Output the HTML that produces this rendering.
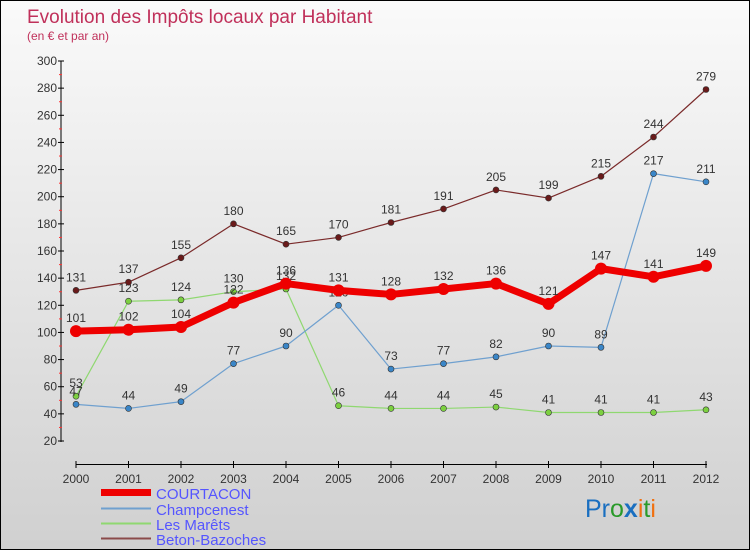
<!DOCTYPE html>
<html><head><meta charset="utf-8"><style>
body{margin:0}
#c{position:relative;width:748px;height:548px;border:1px solid #000;background:linear-gradient(#fafafa,#d0d0d0);font-family:"Liberation Sans",sans-serif;overflow:hidden}
</style></head><body>
<div id="c">
<svg id="s" width="748" height="548" xmlns="http://www.w3.org/2000/svg" font-family="Liberation Sans, sans-serif">
<text x="26" y="22" font-size="19" fill="#c0305a">Evolution des Impôts locaux par Habitant</text>
<text x="26" y="39" font-size="12" fill="#c0305a">(en € et par an)</text>
<g id="axes"></g><g id="series"></g>
<g>
<rect x="100" y="488" width="50" height="7" fill="#e00"/>
<text x="155" y="498" font-size="15" fill="#5555ff">COURTACON</text>
<line x1="100" y1="507.5" x2="150" y2="507.5" stroke="#6fa0cf" stroke-width="2"/>
<text x="155" y="514" font-size="15" fill="#5555ff">Champcenest</text>
<line x1="100" y1="522.5" x2="150" y2="522.5" stroke="#8fd870" stroke-width="2"/>
<text x="155" y="529" font-size="15" fill="#5555ff">Les Marêts</text>
<line x1="100" y1="537.5" x2="150" y2="537.5" stroke="#8a4a4a" stroke-width="2"/>
<text x="155" y="544" font-size="15" fill="#5555ff">Beton-Bazoches</text>
</g>
<g font-size="25"><text x="584" y="516"><tspan fill="#1a6fc0">Pr</tspan><tspan fill="#2a9a2a">o</tspan><tspan fill="#1a6fc0" font-weight="bold">x</tspan><tspan fill="#f07010">i</tspan><tspan fill="#2a9a2a">t</tspan><tspan fill="#f07010">i</tspan></text></g>
</svg></div>
<script>
const years=[2000,2001,2002,2003,2004,2005,2006,2007,2008,2009,2010,2011,2012];
const courtacon=[101,102,104,122,136,131,128,132,136,121,147,141,149];
const champcenest=[47,44,49,77,90,120,73,77,82,90,89,217,211];
const marets=[53,123,124,130,132,46,44,44,45,41,41,41,43];
const beton=[131,137,155,180,165,170,181,191,205,199,215,244,279];
const yTicks=[20,40,60,80,100,120,140,160,180,200,220,240,260,280,300];
const NS="http://www.w3.org/2000/svg";
const X=i=>75+i*52.5, Y=v=>440-(v-20)*380/280;
function el(t,a,p){const e=document.createElementNS(NS,t);for(const k in a)e.setAttribute(k,a[k]);p.appendChild(e);return e;}
const ax=document.getElementById('axes'),sr=document.getElementById('series');
el('line',{x1:60,y1:60,x2:60,y2:441,stroke:'#000'},ax);
yTicks.forEach((v,k)=>{const y=Y(v);el('line',{x1:57,y1:y,x2:63,y2:y,stroke:'#000'},ax);
if(k>0)el('line',{x1:58,y1:y+13.6,x2:61,y2:y+13.6,stroke:'#f33'},ax);
const t=el('text',{x:56,y:y+4,'font-size':12,fill:'#333','text-anchor':'end'},ax);t.textContent=v;
});
el('line',{x1:75,y1:463.5,x2:706,y2:463.5,stroke:'#000'},ax);
years.forEach((yr,i)=>{el('line',{x1:X(i),y1:460,x2:X(i),y2:467,stroke:'#000'},ax);
const t=el('text',{x:X(i),y:482,'font-size':12,fill:'#333','text-anchor':'middle'},ax);t.textContent=yr;
});
function draw(data,color,w,r,dot,name){
const g=el('g',{},sr);
el('polyline',{points:data.map((v,i)=>X(i)+','+Y(v)).join(' '),fill:'none',stroke:color,'stroke-width':w,'stroke-linejoin':'round'},g);
data.forEach((v,i)=>{const c=el('circle',{cx:X(i),cy:Y(v),r:r,fill:dot,stroke:'#333','stroke-width':r>5?0:0.6},g);

const t=el('text',{x:X(i),y:Y(v)-9,'font-size':12,fill:'#333','text-anchor':'middle'},g);t.textContent=v;});}
draw(marets,'#8fd870',1.2,3,'#7cd040','series-les-marets');
draw(champcenest,'#6fa0cf',1.2,3,'#3a86c8','series-champcenest');
draw(beton,'#7a2a2a',1.2,3,'#6a1a1a','series-beton-bazoches');
draw(courtacon,'#ee0000',7,6,'#ee0000','series-courtacon');
</script></body></html>
